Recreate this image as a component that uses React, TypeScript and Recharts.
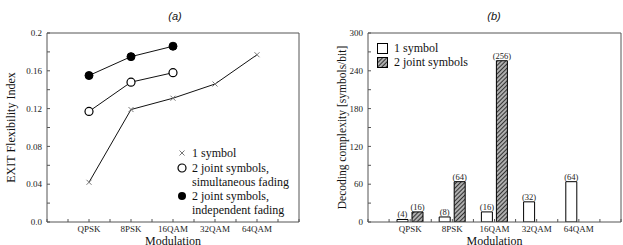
import React from "react";
import { LineChart, Line, BarChart, Bar, XAxis, YAxis, Legend, LabelList, Label } from "recharts";

const modulations = ["QPSK", "8PSK", "16QAM", "32QAM", "64QAM"];
const slotTicks = [0, 0.5, 1, 1.5, 2, 2.5, 3, 3.5, 4, 4.5, 5, 5.5, 6];

// (a) EXIT flexibility index
const oneSymbolExit = [0.042, 0.119, 0.131, 0.146, 0.177];
const jointSimultaneousExit = [0.117, 0.148, 0.158, null, null];
const jointIndependentExit = [0.155, 0.175, 0.186, null, null];
const exitTicks = [0, 0.02, 0.04, 0.06, 0.08, 0.1, 0.12, 0.14, 0.16, 0.18, 0.2];
const exitMajor = [0, 0.04, 0.08, 0.12, 0.16, 0.2];
const exitLabels = ["0.0", "0.04", "0.08", "0.12", "0.16", "0.2"];

// (b) decoding complexity
const oneSymbolCost = [4, 8, 16, 32, 64];
const jointCost = [16, 64, 256, null, null];
const costTicks = [0, 30, 60, 90, 120, 150, 180, 210, 240, 270, 300];
const costMajor = [0, 60, 120, 180, 240, 300];
const costLabels = ["0", "60", "120", "180", "240", "300"];

const SERIF = '"Liberation Serif", "DejaVu Serif", "Times New Roman", serif';
const SANS = '"Liberation Sans", Arial, sans-serif';
const FRAME = "#555";

const exitData = modulations.map((m, i) => ({
  pos: i + 1,
  name: m,
  one: oneSymbolExit[i],
  sim: jointSimultaneousExit[i],
  ind: jointIndependentExit[i],
}));

const costData = modulations.map((m, i) => ({
  pos: i + 1,
  name: m,
  one: oneSymbolCost[i],
  joint: jointCost[i],
}));

const pick = (major: number[], labels: string[]) => (v: number) => {
  const k = major.findIndex((t) => Math.abs(t - v) < 1e-9);
  return k < 0 ? "" : labels[k];
};

const slotLabel = (v: number) => (Number.isInteger(v) && v >= 1 && v <= 5 ? modulations[v - 1] : "");

const tickStyle = { fontFamily: SERIF, fontSize: 9, fill: "#222" };
const axisTitle = { fontFamily: SERIF, fontSize: 12, fill: "#111" };

function Cross(props: any) {
  const { cx, cy, index } = props;
  if (cx == null || cy == null) return <g key={`c${index}`} />;
  return (
    <path
      key={`c${index}`}
      d={`M${cx - 2.5},${cy - 2.5}L${cx + 2.5},${cy + 2.5}M${cx - 2.5},${cy + 2.5}L${cx + 2.5},${cy - 2.5}`}
      stroke="#777"
      strokeWidth={1}
      fill="none"
    />
  );
}

function ExitLegend() {
  const line = { fontFamily: SERIF, fontSize: 12, lineHeight: "14px", color: "#111" };
  const marker = (kind: string) => (
    <svg width={12} height={14} style={{ flex: "none", marginRight: 4 }}>
      {kind === "x" && <path d="M3.5,4.5L8.5,9.5M3.5,9.5L8.5,4.5" stroke="#777" strokeWidth={1} />}
      {kind === "o" && <circle cx={6} cy={7} r={4} fill="#fff" stroke="#000" strokeWidth={1.2} />}
      {kind === "f" && <circle cx={6} cy={7} r={4} fill="#000" />}
    </svg>
  );
  return (
    <div style={line}>
      <div style={{ display: "flex" }}>{marker("x")}<div>1 symbol</div></div>
      <div style={{ display: "flex", marginTop: 1 }}>{marker("o")}<div>2 joint symbols,<br />simultaneous fading</div></div>
      <div style={{ display: "flex", marginTop: 0 }}>{marker("f")}<div>2 joint symbols,<br />independent fading</div></div>
    </div>
  );
}

function CostLegend() {
  const row = { display: "flex", alignItems: "center", height: 14 };
  return (
    <div style={{ fontFamily: SERIF, fontSize: 12, color: "#111" }}>
      <div style={row}>
        <svg width={11} height={11} style={{ marginRight: 6 }}><rect x={0.5} y={0.5} width={10} height={10} fill="#fff" stroke="#000" /></svg>
        <span>1 symbol</span>
      </div>
      <div style={row}>
        <svg width={11} height={11} style={{ marginRight: 6 }}><rect x={0.5} y={0.5} width={10} height={10} fill="url(#hatch)" stroke="#000" /></svg>
        <span>2 joint symbols</span>
      </div>
    </div>
  );
}

function Title({ text, left }: { text: string; left: number }) {
  return (
    <div style={{ position: "absolute", left: left - 20, width: 40, top: 10, textAlign: "center", fontFamily: SANS, fontStyle: "italic", fontSize: 11, color: "#111" }}>
      {text}
    </div>
  );
}

export default function App() {
  return (
    <div style={{ position: "absolute", left: 0, top: 0, width: 623, height: 245, background: "#fff", overflow: "hidden" }}>
      <div style={{ position: "absolute", left: 0, top: 0 }}>
        <LineChart width={310} height={245} data={exitData} margin={{ top: 32, right: 10, bottom: 22, left: 46 }}>
          <XAxis xAxisId="x" type="number" dataKey="pos" domain={[0, 6]} ticks={slotTicks} interval={0} tickFormatter={slotLabel}
            height={1} tickSize={-3} tickMargin={7} stroke={FRAME} tick={tickStyle} allowDataOverflow>
            <Label value="Modulation" position="bottom" offset={13} style={axisTitle} />
          </XAxis>
          <XAxis xAxisId="top" orientation="top" type="number" dataKey="pos" domain={[0, 6]} ticks={slotTicks} interval={0}
            height={1} tickSize={-3} tick={false} stroke={FRAME} allowDataOverflow />
          <YAxis yAxisId="y" type="number" domain={[0, 0.2]} ticks={exitTicks} interval={0} tickFormatter={pick(exitMajor, exitLabels)}
            width={1} tickSize={-3} tickMargin={8} stroke={FRAME} tick={tickStyle} allowDataOverflow>
            <Label value="EXIT Flexibility Index" position="left" offset={35} angle={-90} style={{ ...axisTitle, textAnchor: "middle" }} />
          </YAxis>
          <YAxis yAxisId="r" orientation="right" type="number" domain={[0, 0.2]} ticks={exitTicks} interval={0}
            width={1} tickSize={-3} tick={false} stroke={FRAME} allowDataOverflow />
          <Legend layout="horizontal" verticalAlign="middle" align="center" content={() => <ExitLegend />}
            wrapperStyle={{ left: 176, top: 146, width: 130 }} />
          <Line xAxisId="x" yAxisId="y" dataKey="one" stroke="#111" strokeWidth={1} dot={Cross} activeDot={false} isAnimationActive={false} />
          <Line xAxisId="x" yAxisId="y" dataKey="sim" stroke="#111" strokeWidth={1} dot={{ r: 4, fill: "#fff", stroke: "#000", strokeWidth: 1.2 }} activeDot={false} isAnimationActive={false} />
          <Line xAxisId="x" yAxisId="y" dataKey="ind" stroke="#111" strokeWidth={1} dot={{ r: 4, fill: "#000", stroke: "#000", strokeWidth: 1 }} activeDot={false} isAnimationActive={false} />
        </LineChart>
        <Title text="(a)" left={175} />
      </div>

      <div style={{ position: "absolute", left: 310, top: 0 }}>
        <BarChart width={313} height={245} data={costData} margin={{ top: 32, right: 1, bottom: 22, left: 57 }} barGap={4}>
          <defs>
            <pattern id="hatch" patternUnits="userSpaceOnUse" width={3} height={3} patternTransform="rotate(45)">
              <rect width={3} height={3} fill="#fff" />
              <line x1={1.5} y1={0} x2={1.5} y2={3} stroke="#333" strokeWidth={1.8} />
            </pattern>
          </defs>
          <XAxis xAxisId="cat" dataKey="name" padding={{ left: 21, right: 21 }} hide />
          <XAxis xAxisId="bm" type="number" dataKey="pos" domain={[0, 6]} ticks={slotTicks} interval={0} tickFormatter={slotLabel}
            height={1} tickSize={-3} tickMargin={7} stroke={FRAME} tick={tickStyle} allowDataOverflow>
            <Label value="Modulation" position="bottom" offset={13} style={axisTitle} />
          </XAxis>
          <XAxis xAxisId="tm" orientation="top" type="number" dataKey="pos" domain={[0, 6]} ticks={slotTicks} interval={0}
            height={1} tickSize={-3} tick={false} stroke={FRAME} allowDataOverflow />
          <YAxis yAxisId="y" type="number" domain={[0, 300]} ticks={costTicks} interval={0} tickFormatter={pick(costMajor, costLabels)}
            width={1} tickSize={-3} tickMargin={8} stroke={FRAME} tick={tickStyle} allowDataOverflow>
            <Label value="Decoding complexity [symbols/bit]" position="left" offset={25} angle={-90} style={{ ...axisTitle, fontSize: 11.5, textAnchor: "middle" }} />
          </YAxis>
          <YAxis yAxisId="r" orientation="right" type="number" domain={[0, 300]} ticks={costTicks} interval={0}
            width={1} tickSize={-3} tick={false} stroke={FRAME} allowDataOverflow />
          <Legend layout="horizontal" verticalAlign="middle" align="center" content={() => <CostLegend />}
            wrapperStyle={{ left: 67, top: 41, width: 120 }} />
          <Bar xAxisId="cat" yAxisId="y" dataKey="one" fill="#fff" stroke="#000" strokeWidth={1} barSize={11} isAnimationActive={false}>
            <LabelList dataKey="one" position="top" offset={2} formatter={(v: any) => (v == null ? "" : `(${v})`)} style={{ fontFamily: SERIF, fontSize: 8.5, fill: "#222" }} />
          </Bar>
          <Bar xAxisId="cat" yAxisId="y" dataKey="joint" fill="url(#hatch)" stroke="#000" strokeWidth={1} barSize={11} isAnimationActive={false}>
            <LabelList dataKey="joint" position="top" offset={2} formatter={(v: any) => (v == null ? "" : `(${v})`)} style={{ fontFamily: SERIF, fontSize: 8.5, fill: "#222" }} />
          </Bar>
        </BarChart>
        <Title text="(b)" left={184} />
      </div>
    </div>
  );
}
